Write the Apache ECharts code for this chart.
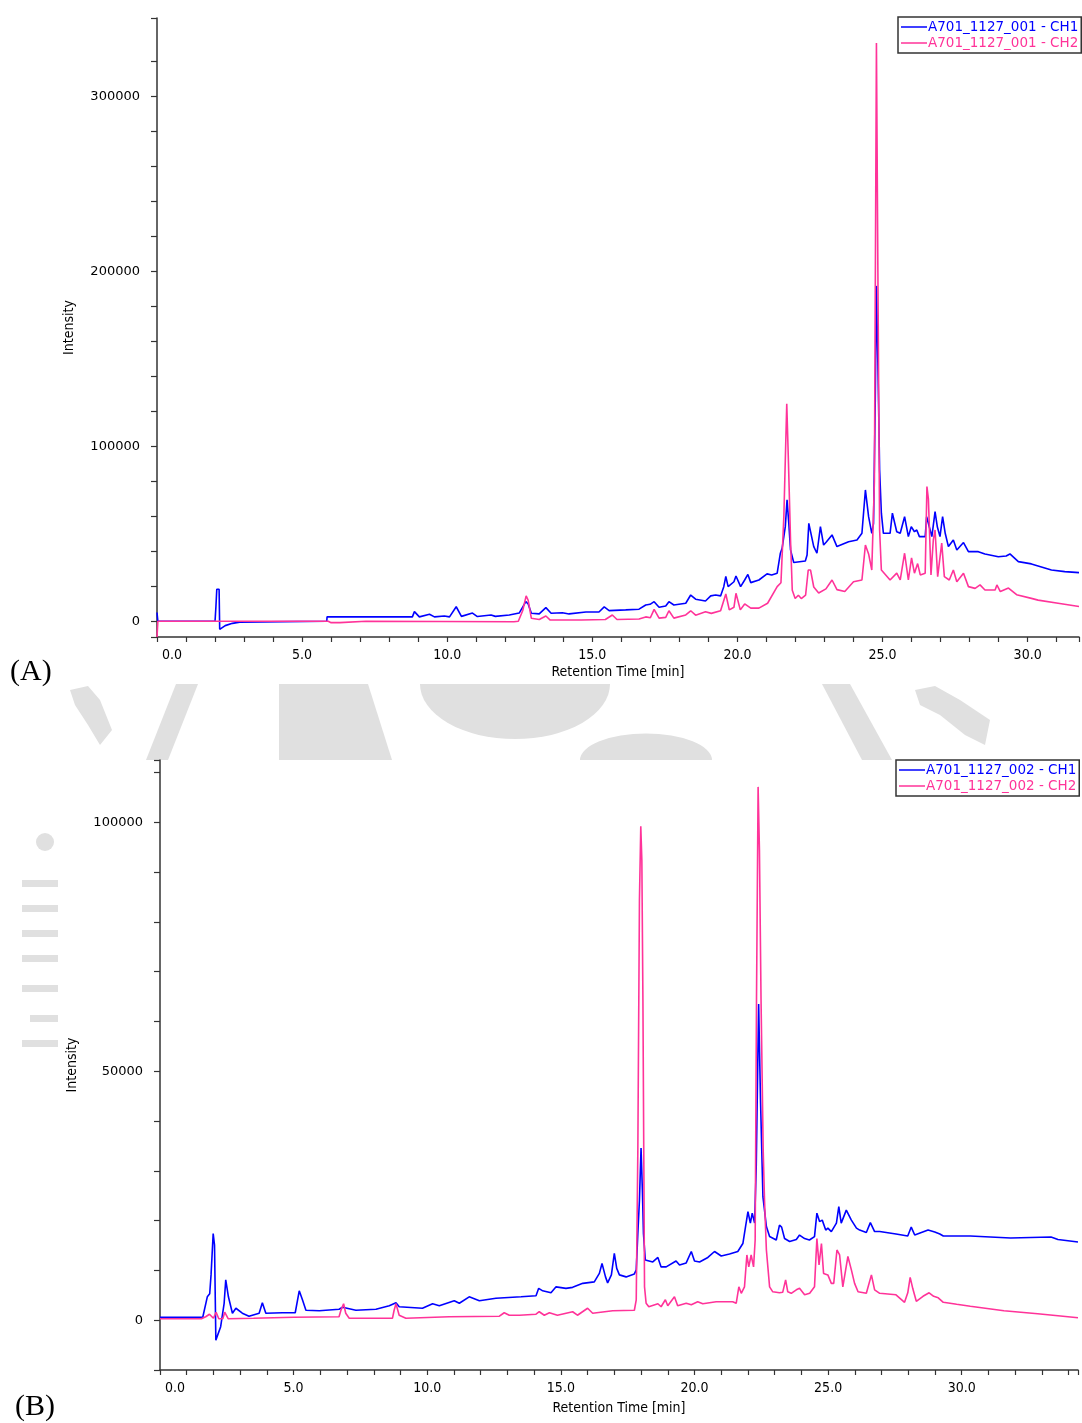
<!DOCTYPE html>
<html><head><meta charset="utf-8">
<script src="https://cdn.jsdelivr.net/npm/echarts@6/dist/echarts.min.js"></script>
<style>html,body{margin:0;padding:0;background:#fff}#c{width:1082px;height:1423px}</style>
</head><body><div id="c"></div>
<script>
// ---------- DATA ----------
const seriesNamesA = ['A701_1127_001 - CH1', 'A701_1127_001 - CH2'];
const seriesNamesB = ['A701_1127_002 - CH1', 'A701_1127_002 - CH2'];

const yTicksA = [-9000,0,20000,40000,60000,80000,100000,120000,140000,160000,180000,200000,220000,240000,260000,280000,300000,320000,345000];
const yLabelsA = [0,100000,200000,300000];
const yTicksB = [-10000,0,10000,20000,30000,40000,50000,60000,70000,80000,90000,100000,110000,112500];
const yLabelsB = [0,50000,100000];

// Chromatogram A : [retention time (min), intensity]
const aCH1 = [[0,5000],[0.03,0],[2.0,0],[2.03,8300],[2.06,18300],[2.14,18300],[2.16,-4600],[2.22,-5000],[2.35,-2500],[2.6,-1200],[2.85,-500],[2.9,0],[5.85,0],[5.86,2500],[8.8,2500],[8.87,5500],[9.04,2500],[9.39,4000],[9.56,2500],[9.9,3000],[10.08,2500],[10.31,8300],[10.49,2800],[10.87,4700],[11.04,2700],[11.51,3600],[11.66,2800],[12.14,3600],[12.48,4700],[12.71,11200],[12.79,9900],[12.9,4600],[13.17,4200],[13.4,7800],[13.58,4600],[13.97,4900],[14.2,4200],[14.78,5300],[15.23,5300],[15.41,8200],[15.58,6100],[16.15,6500],[16.61,6900],[16.84,9300],[16.99,9700],[17.13,11200],[17.3,8000],[17.53,8700],[17.64,11200],[17.81,9300],[18.22,10300],[18.39,15000],[18.56,12600],[18.9,11600],[19.08,14500],[19.25,15000],[19.42,14500],[19.53,19800],[19.6,25600],[19.68,19800],[19.88,22600],[19.95,25900],[20.11,19800],[20.25,23600],[20.36,26800],[20.46,22100],[20.74,23600],[21.02,27100],[21.18,26500],[21.37,27500],[21.48,38900],[21.54,41700],[21.65,54100],[21.71,69400],[21.77,56000],[21.83,40800],[21.94,33600],[22.34,34500],[22.4,37900],[22.46,56000],[22.52,55100],[22.63,42700],[22.74,38900],[22.86,54100],[22.97,43600],[23.07,45500],[23.26,49400],[23.43,42700],[23.83,45500],[24.12,46500],[24.29,50300],[24.41,75100],[24.52,59800],[24.63,50300],[24.69,56000],[24.75,126700],[24.79,191800],[24.85,138000],[24.9,86500],[24.96,61800],[25.03,50300],[25.26,50300],[25.34,61800],[25.49,51200],[25.61,50300],[25.76,59800],[25.89,48400],[25.99,54100],[26.1,51200],[26.18,52200],[26.27,48400],[26.47,48400],[26.52,59800],[26.64,52200],[26.7,48400],[26.81,62700],[26.89,53900],[26.98,48400],[27.07,59800],[27.16,50300],[27.27,42700],[27.44,46500],[27.56,40800],[27.79,45000],[27.96,39800],[28.3,39800],[28.53,38500],[28.99,36900],[29.26,37300],[29.39,38500],[29.68,34100],[30.13,32800],[30.82,29300],[31.28,28400],[31.77,27800]];

const aCH2 = [[0,-9000],[0.03,0],[5.9,0],[6.0,-800],[6.3,-800],[6.35,0],[7.2,0],[7.25,-500],[12.3,-300],[12.45,0],[12.6,6000],[12.72,14500],[12.79,12000],[12.9,1700],[13.17,1000],[13.4,3000],[13.55,700],[14.5,700],[14.56,1500],[14.62,700],[15.45,1000],[15.69,3600],[15.85,1000],[16.61,1300],[16.84,2500],[17.0,2000],[17.13,6800],[17.3,1800],[17.53,2200],[17.64,6000],[17.81,1800],[18.22,3600],[18.39,6000],[18.56,3500],[18.9,5400],[19.1,4500],[19.42,6000],[19.6,15600],[19.72,6500],[19.88,8000],[19.95,16000],[20.1,6500],[20.25,9900],[20.46,7500],[20.74,7500],[21.04,10300],[21.37,19800],[21.5,22000],[21.6,60000],[21.7,124400],[21.76,90000],[21.83,46300],[21.89,17700],[21.99,13000],[22.1,14900],[22.2,13000],[22.35,15000],[22.44,29300],[22.52,29300],[22.63,19600],[22.8,16200],[23.05,18500],[23.26,23600],[23.43,18100],[23.7,17000],[24.0,22600],[24.29,23600],[24.41,43600],[24.52,38500],[24.63,29300],[24.72,80000],[24.79,330700],[24.84,200000],[24.9,52000],[24.96,29300],[25.26,23600],[25.49,27500],[25.61,23600],[25.76,38900],[25.89,23600],[26.0,36200],[26.1,27500],[26.21,33000],[26.3,26500],[26.47,27500],[26.53,77000],[26.58,70000],[26.67,26500],[26.75,46500],[26.81,52200],[26.9,25500],[27.04,44700],[27.13,25500],[27.3,23600],[27.44,29300],[27.56,22600],[27.79,27500],[27.96,19800],[28.19,18800],[28.36,20800],[28.53,17900],[28.88,17900],[28.94,20800],[29.06,17000],[29.34,19000],[29.62,15200],[30.13,13100],[30.36,12100],[31.05,10300],[31.77,8400]];

// Chromatogram B
const bCH1 = [[0,600],[1.6,600],[1.77,4700],[1.86,5300],[1.91,9100],[1.99,17400],[2.04,15100],[2.09,-4000],[2.15,-4200],[2.27,-1300],[2.4,3400],[2.46,8100],[2.56,4700],[2.71,1400],[2.84,2400],[3.08,1400],[3.33,800],[3.71,1400],[3.83,3500],[3.96,1400],[4.58,1500],[5.06,1500],[5.21,5900],[5.33,4100],[5.46,2000],[5.96,1900],[6.7,2200],[6.83,2600],[7.33,2000],[8.08,2200],[8.58,2900],[8.83,3500],[8.95,2700],[9.82,2400],[10.2,3300],[10.45,2900],[11.01,3900],[11.2,3400],[11.57,4700],[11.95,3900],[12.57,4400],[13.51,4700],[14.07,4900],[14.17,6400],[14.32,5900],[14.63,5500],[14.82,6700],[15.19,6400],[15.44,6600],[15.82,7400],[16.25,7700],[16.44,9400],[16.54,11400],[16.67,8700],[16.75,7500],[16.89,9100],[17.0,13400],[17.09,10400],[17.19,9100],[17.44,8700],[17.75,9300],[17.82,10100],[17.88,17400],[17.94,24100],[18.0,34600],[18.05,26100],[18.09,17400],[18.16,12100],[18.44,11700],[18.63,12600],[18.75,10700],[18.94,10700],[19.31,11900],[19.44,11100],[19.69,11500],[19.88,13800],[20.0,11900],[20.19,11700],[20.5,12600],[20.75,13800],[21.0,12900],[21.31,13300],[21.62,13800],[21.81,15400],[21.91,18800],[22.0,21800],[22.09,19500],[22.16,21500],[22.25,19500],[22.31,30800],[22.4,63500],[22.47,44200],[22.56,24800],[22.62,22100],[22.69,18800],[22.81,16800],[23.06,16100],[23.18,19100],[23.26,18700],[23.37,16400],[23.56,15800],[23.81,16200],[23.93,17100],[24.12,16400],[24.3,16100],[24.49,16800],[24.58,21500],[24.68,19800],[24.78,20100],[24.91,18100],[24.99,18500],[25.12,17800],[25.31,19500],[25.4,22800],[25.49,19500],[25.68,22100],[25.87,20100],[26.06,18500],[26.18,18100],[26.43,17600],[26.58,19600],[26.74,17800],[26.93,17800],[27.54,17300],[27.98,16900],[28.11,18700],[28.24,17100],[28.74,18100],[28.99,17700],[29.18,17300],[29.31,16900],[30.32,16900],[31.07,16700],[31.83,16500],[33.34,16700],[33.6,16200],[34.35,15700]];

const bCH2 = [[0,300],[1.55,300],[1.71,700],[1.85,1200],[2.0,400],[2.1,1600],[2.2,300],[2.35,300],[2.42,1600],[2.55,300],[3.5,400],[5.0,600],[6.7,700],[6.77,2000],[6.87,3300],[6.95,1400],[7.08,400],[8.7,400],[8.76,2000],[8.83,3300],[8.95,1000],[9.2,400],[10.82,700],[12.7,800],[12.88,1500],[13.07,1000],[13.45,1000],[14.07,1200],[14.19,1700],[14.38,1000],[14.57,1500],[14.87,1000],[15.44,1700],[15.62,1000],[16.0,2400],[16.19,1400],[16.94,1900],[17.75,2000],[17.82,4100],[17.88,34200],[17.94,84400],[17.99,99200],[18.03,92400],[18.07,64300],[18.13,6700],[18.19,3400],[18.29,2700],[18.63,3300],[18.75,2700],[18.91,4100],[19.0,2900],[19.25,4700],[19.37,2900],[19.69,3400],[19.88,3100],[20.12,3700],[20.31,3300],[20.81,3700],[21.43,3700],[21.56,3400],[21.66,6700],[21.75,5400],[21.87,6700],[21.96,13100],[22.03,10700],[22.12,13100],[22.21,10700],[22.27,16100],[22.32,64300],[22.38,107100],[22.43,94400],[22.49,64300],[22.57,34200],[22.62,24100],[22.69,14100],[22.81,6700],[22.93,5700],[23.18,5500],[23.3,5600],[23.41,8100],[23.49,5700],[23.62,5400],[23.81,6100],[23.93,6400],[24.12,5100],[24.31,5400],[24.49,6700],[24.58,16400],[24.66,11100],[24.75,15400],[24.83,9400],[24.99,9100],[25.12,7400],[25.21,7400],[25.33,14100],[25.43,13100],[25.55,6700],[25.74,12800],[25.87,10100],[25.99,7400],[26.12,5700],[26.43,5400],[26.62,9100],[26.74,6100],[26.93,5400],[27.54,5100],[27.86,3600],[27.98,5500],[28.07,8600],[28.17,6300],[28.3,3800],[28.55,4800],[28.78,5500],[28.95,4800],[29.12,4500],[29.31,3600],[29.81,3200],[30.32,2800],[31.58,1900],[32.84,1300],[33.6,900],[34.35,500]];

// ---------- STYLE ----------
const BLUE = '#0000ff', PINK = '#ff3399', AX = '#333';
const COND = '"DejaVu Sans Condensed","Liberation Sans Narrow","DejaVu Sans",sans-serif';
const WM = '#e0e0e0';

function xAxisCfg(grid, max, gap) {
  return {
    gridIndex: grid, type: 'value', min: 0, max: max, interval: 1,
    axisLine: {onZero: false, lineStyle: {color: AX, width: 1.5}},
    axisTick: {length: 5, lineStyle: {color: AX, width: 1.2}},
    splitLine: {show: false},
    axisLabel: {
      color: '#000', fontFamily: COND, fontSize: 14, margin: 11,
      formatter: v => {
        const r = v / 5;
        if (Math.abs(r - Math.round(r)) > 1e-6) return '';
        return v === 0 ? '{z|0.0}' : v.toFixed(1);
      },
      rich: {z: {fontFamily: COND, fontSize: 14, color: '#000', padding: [0, 0, 0, 30]}}
    },
    name: 'Retention Time [min]', nameLocation: 'middle', nameGap: gap,
    nameTextStyle: {color: '#000', fontFamily: COND, fontSize: 14}
  };
}
function yAxisCfg(grid, min, max, ticks, labels) {
  return {
    gridIndex: grid, type: 'value', min: min, max: max,
    axisLine: {onZero: false, lineStyle: {color: AX, width: 1.5}},
    axisTick: {length: 6, customValues: ticks, lineStyle: {color: AX, width: 1.2}},
    splitLine: {show: false},
    axisLabel: {customValues: labels, color: '#000', fontFamily: '"DejaVu Sans",Verdana,sans-serif', fontSize: 13, margin: 17,
      formatter: v => String(v)},
    name: 'Intensity', nameLocation: 'middle', nameGap: 81,
    nameTextStyle: {color: '#000', fontFamily: COND, fontSize: 14}
  };
}
function legendCfg(names, left, top) {
  return {
    orient: 'vertical', left: left, top: top,
    padding: [3, 3, 3, 3], itemGap: 2,
    borderColor: AX, borderWidth: 1.5, backgroundColor: '#fff',
    icon: 'rect', itemWidth: 26, itemHeight: 1.5,
    textStyle: {fontFamily: '"DejaVu Sans",Verdana,sans-serif', fontSize: 13.5, padding: [0, 0, 0, -4]},
    selectedMode: false,
    data: [{name: names[0], textStyle: {color: BLUE}}, {name: names[1], textStyle: {color: PINK}}]
  };
}
function lineSeries(name, data, color, xi, yi, z) {
  return {
    name: name, type: 'line', data: data, xAxisIndex: xi, yAxisIndex: yi,
    showSymbol: false, symbol: 'none', sampling: 'none', z: z, clip: true,
    lineStyle: {color: color, width: 1.6}, itemStyle: {color: color}
  };
}

const chart = echarts.init(document.getElementById('c'), null, {renderer: 'canvas'});
chart.setOption({
  animation: false,
  backgroundColor: '#fff',
  textStyle: {fontFamily: '"DejaVu Sans",sans-serif'},
  grid: [
    {left: 157, top: 18, width: 924, height: 619},
    {left: 160, top: 760, width: 918, height: 610}
  ],
  xAxis: [xAxisCfg(0, 31.77, 28), xAxisCfg(1, 34.35, 31)],
  yAxis: [yAxisCfg(0, -9000, 345000, yTicksA, yLabelsA), yAxisCfg(1, -10000, 112500, yTicksB, yLabelsB)],
  legend: [legendCfg(seriesNamesA, 898, 17), legendCfg(seriesNamesB, 896, 760)],
  series: [
    lineSeries(seriesNamesA[0], aCH1, BLUE, 0, 0, 2),
    lineSeries(seriesNamesA[1], aCH2, PINK, 0, 0, 3),
    lineSeries(seriesNamesB[0], bCH1, BLUE, 1, 1, 2),
    lineSeries(seriesNamesB[1], bCH2, PINK, 1, 1, 3)
  ],
  graphic: [
    // faint watermark fragments behind the charts
    {type: 'polygon', silent: true, z: -10, shape: {points: [[176,684],[198,684],[168,760],[146,760]]}, style: {fill: WM}},
    {type: 'polygon', silent: true, z: -10, shape: {points: [[279,684],[368,684],[392,760],[279,760]]}, style: {fill: WM}},
    {type: 'sector', silent: true, z: -10, x: 515, y: 684, scaleY: 0.58, shape: {cx: 0, cy: 0, r: 95, startAngle: 0, endAngle: Math.PI}, style: {fill: WM}},
    {type: 'sector', silent: true, z: -10, x: 646, y: 760, scaleY: 0.4, shape: {cx: 0, cy: 0, r: 66, startAngle: Math.PI, endAngle: 2 * Math.PI}, style: {fill: WM}},
    {type: 'polygon', silent: true, z: -10, shape: {points: [[822,684],[850,684],[892,760],[862,760]]}, style: {fill: WM}},
    {type: 'polygon', silent: true, z: -10, shape: {points: [[915,690],[935,686],[960,700],[990,720],[985,745],[965,735],[940,715],[920,705]]}, style: {fill: WM}},
    {type: 'polygon', silent: true, z: -10, shape: {points: [[70,690],[88,686],[100,700],[112,730],[100,745],[88,725],[75,705]]}, style: {fill: WM}},
    {type: 'circle', silent: true, z: -10, shape: {cx: 45, cy: 842, r: 9}, style: {fill: WM}},
    {type: 'rect', silent: true, z: -10, shape: {x: 22, y: 880, width: 36, height: 7}, style: {fill: WM}},
    {type: 'rect', silent: true, z: -10, shape: {x: 22, y: 905, width: 36, height: 7}, style: {fill: WM}},
    {type: 'rect', silent: true, z: -10, shape: {x: 22, y: 930, width: 36, height: 7}, style: {fill: WM}},
    {type: 'rect', silent: true, z: -10, shape: {x: 22, y: 955, width: 36, height: 7}, style: {fill: WM}},
    {type: 'rect', silent: true, z: -10, shape: {x: 22, y: 985, width: 36, height: 7}, style: {fill: WM}},
    {type: 'rect', silent: true, z: -10, shape: {x: 30, y: 1015, width: 28, height: 7}, style: {fill: WM}},
    {type: 'rect', silent: true, z: -10, shape: {x: 22, y: 1040, width: 36, height: 7}, style: {fill: WM}},
    // panel tags
    {type: 'text', left: 10, top: 657, style: {text: '(A)', font: '30px "Liberation Serif","Times New Roman",serif', fill: '#000'}},
    {type: 'text', left: 15, top: 1392, style: {text: '(B)', font: '30px "Liberation Serif","Times New Roman",serif', fill: '#000'}}
  ]
});
</script>
</body></html>
